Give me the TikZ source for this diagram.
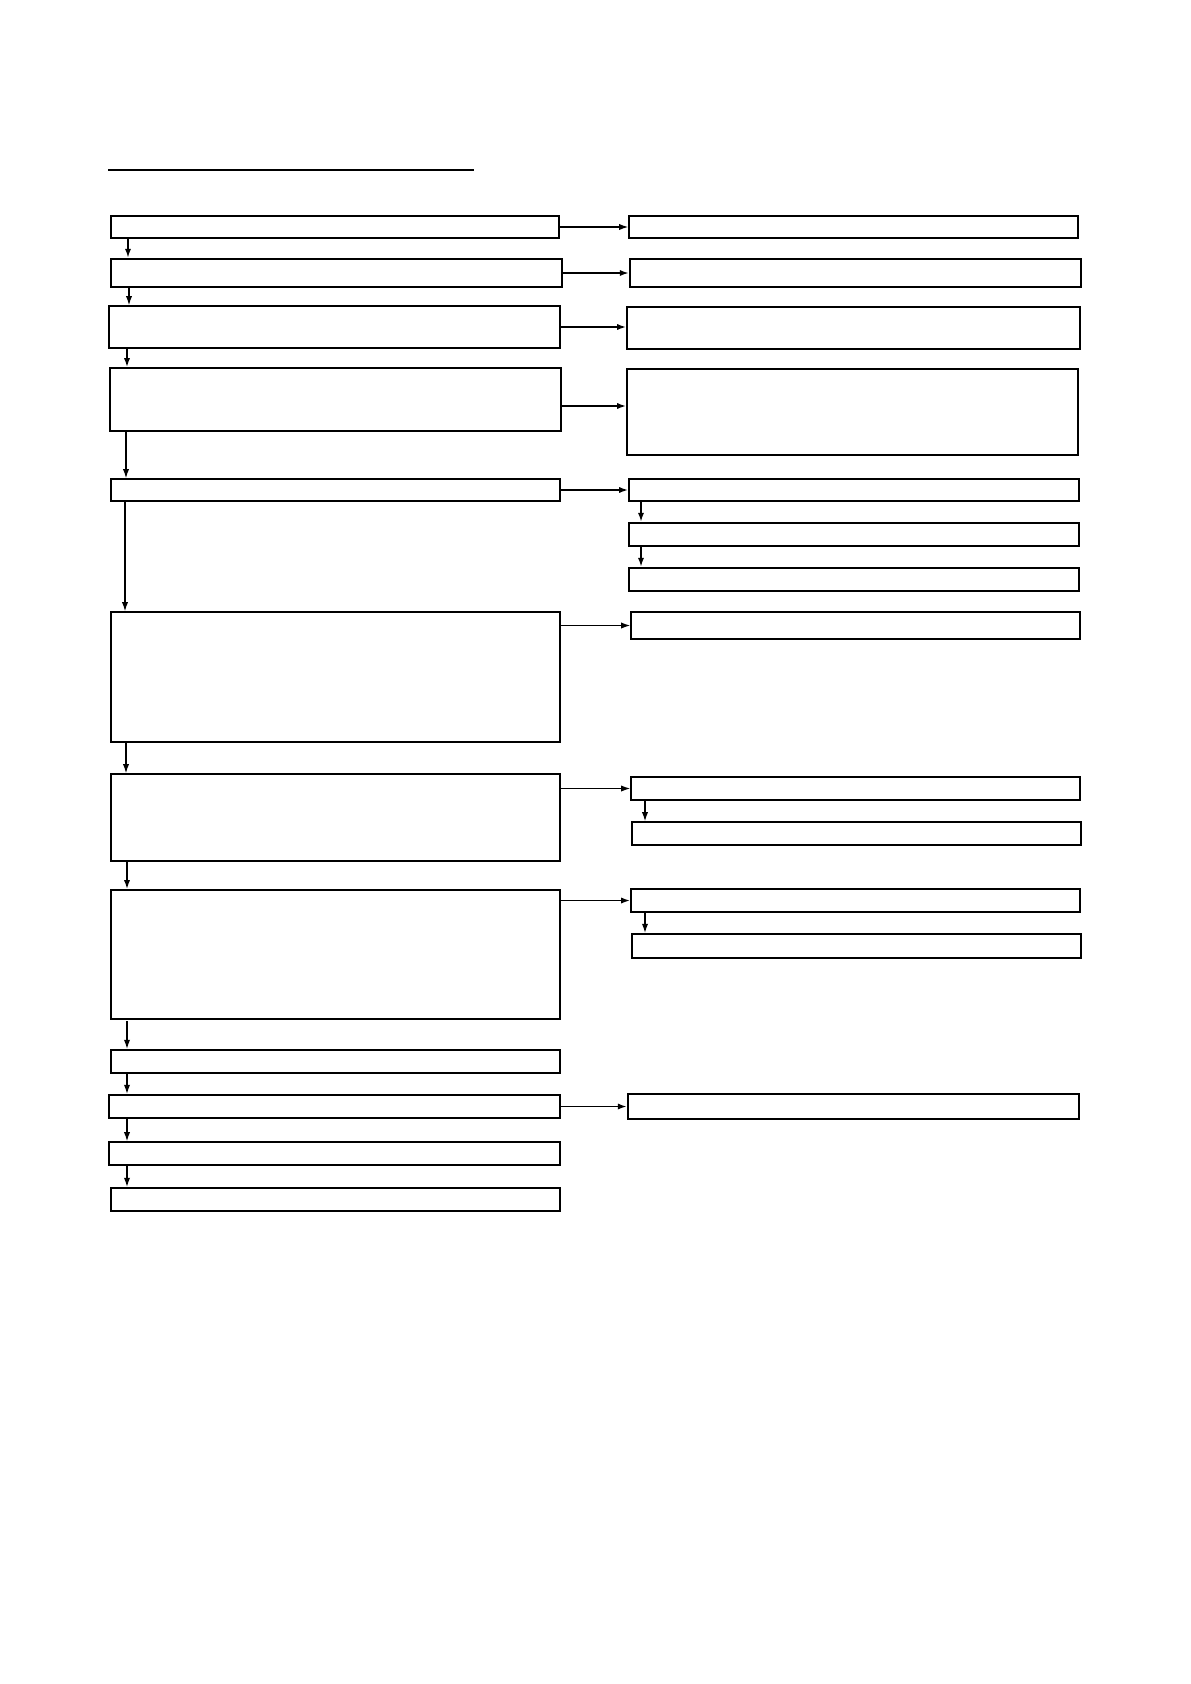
\documentclass[tikz,border=0pt]{standalone}
\usepackage{tikz}
\usetikzlibrary{fit,calc,arrows.meta}

\begin{document}
\begin{tikzpicture}[x=0.01765cm,y=-0.01765cm,
		box/.style={draw=black,line width=0.8pt,inner sep=0pt,fill=white},
		thickbox/.style={box,line width=1.1pt},
		arr/.style={draw=black,line width=0.6pt,-{Latex[length=1.6mm,width=1.1mm]}},
		thickarr/.style={arr,line width=0.9pt}]
		\useasboundingbox (0,0) rectangle (1190,1684);
		
		% Heading rule
		\draw[black,line width=1.2pt] (108,170) -- (474,170);
		
		%% Left column
		\node[box,fit={(111,216) (559,238)}] (L1) {};
		\node[thickbox,fit={(111,259) (562,287)}] (L2) {};
		\node[box,fit={(109,306) (560,348)}] (L3) {};
		\node[box,fit={(110,368) (561,431)}] (L4) {};
		\node[box,fit={(111,479) (560,501)}] (L5) {};
		\node[box,fit={(111,612) (560,742)}] (L6) {};
		\node[box,fit={(111,774) (560,861)}] (L7) {};
		\node[box,fit={(111,890) (560,1019)}] (L8) {};
		\node[thickbox,fit={(111,1050) (560,1073)}] (L9) {};
		\node[thickbox,fit={(109,1095) (560,1118)}] (L10) {};
		\node[box,fit={(109,1142) (560,1165)}] (L11) {};
		\node[thickbox,fit={(111,1188) (560,1211)}] (L12) {};
		
		%% Right column
		\node[box,fit={(629,216) (1078,238)}] (R1) {};
		\node[thickbox,fit={(630,259) (1081,287)}] (R2) {};
		\node[box,fit={(627,307) (1080,349)}] (R3) {};
		\node[box,fit={(627,369) (1078,455)}] (R4) {};
		\node[box,fit={(629,479) (1079,501)}] (R5) {};
		\node[thickbox,fit={(629,523) (1079,546)}] (R6) {};
		\node[thickbox,fit={(629,568) (1079,591)}] (R7) {};
		\node[box,fit={(631,612) (1080,639)}] (R8) {};
		\node[box,fit={(631,777) (1080,800)}] (R9) {};
		\node[box,fit={(632,822) (1081,845)}] (R10) {};
		\node[box,fit={(631,889) (1080,912)}] (R11) {};
		\node[thickbox,fit={(632,934) (1081,958)}] (R12) {};
		\node[thickbox,fit={(628,1094) (1079,1119)}] (R13) {};
		
		%% Arrow start points
		\coordinate (d1) at (128,238);
		\coordinate (d2) at (129,287);
		\coordinate (d3) at (127,348);
		\coordinate (d4) at (126,431);
		\coordinate (d5) at (125,501);
		\coordinate (d6) at (126,742);
		\coordinate (d7) at (127,861);
		\coordinate (d8) at (127,1021);
		\coordinate (d9) at (127,1073);
		\coordinate (d10) at (127,1118);
		\coordinate (d11) at (127,1165);
		\coordinate (a4) at (561,406);
		\coordinate (e5) at (641,501);
		\coordinate (e6) at (641,546);
		\coordinate (e9) at (645,800);
		\coordinate (e11) at (645,912);
		
		%% Down the left column
		\draw[thickarr] (d1) -- (d1 |- L2.north);
		\draw[arr] (d2) -- (d2 |- L3.north);
		\draw[thickarr] (d3) -- (d3 |- L4.north);
		\draw[arr] (d4) -- (d4 |- L5.north);
		\draw[arr] (d5) -- (d5 |- L6.north);
		\draw[arr] (d6) -- (d6 |- L7.north);
		\draw[thickarr] (d7) -- (d7 |- L8.north);
		\draw[arr] (d8) -- (d8 |- L9.north);
		\draw[arr] (d9) -- (d9 |- L10.north);
		\draw[arr] (d10) -- (d10 |- L11.north);
		\draw[arr] (d11) -- (d11 |- L12.north);
		
		%% Across to the right column
		\draw[arr] (L1.east |- R1.west) -- (R1.west);
		\draw[thickarr] (L2.east |- R2.west) -- (R2.west);
		\draw[thickarr] (L3.east) -- (L3.east -| R3.west);
		\draw[thickarr] (a4) -- (a4 -| R4.west);
		\draw[thickarr] (L5.east |- R5.west) -- (R5.west);
		\draw[arr] (L6.east |- R8.west) -- (R8.west);
		\draw[arr] (L7.east |- R9.west) -- (R9.west);
		\draw[thickarr] (L8.east |- R11.west) -- (R11.west);
		\draw[thickarr] (L10.east |- R13.west) -- (R13.west);
		
		%% Down the right column
		\draw[thickarr] (e5) -- (e5 |- R6.north);
		\draw[thickarr] (e6) -- (e6 |- R7.north);
		\draw[arr] (e9) -- (e9 |- R10.north);
		\draw[arr] (e11) -- (e11 |- R12.north);
	\end{tikzpicture}
\end{document}
